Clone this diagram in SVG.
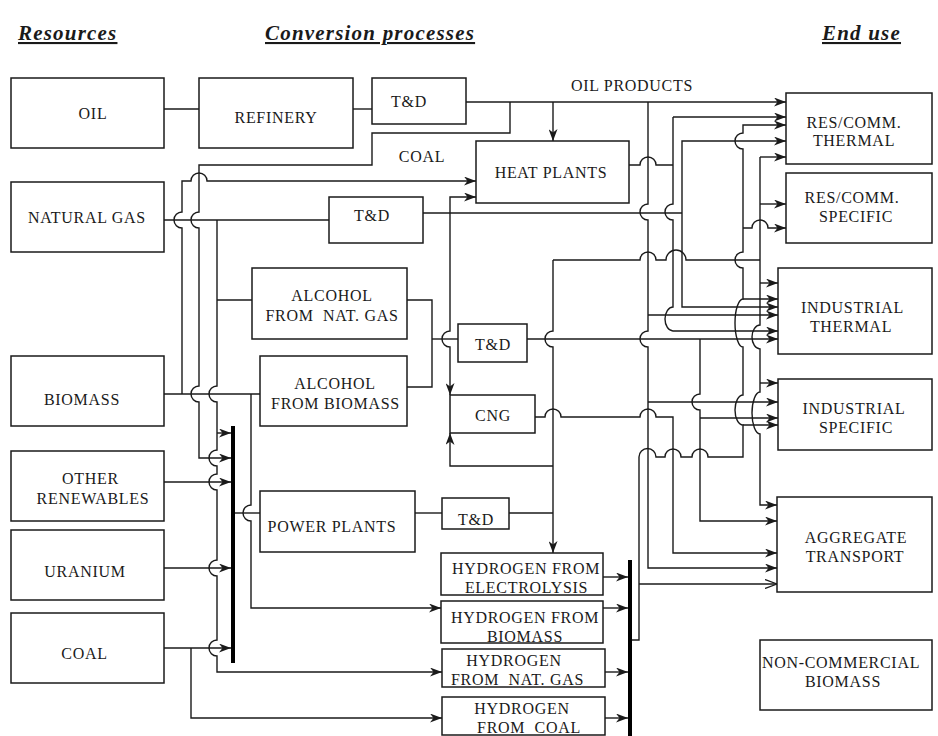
<svg xmlns="http://www.w3.org/2000/svg" width="938" height="736" viewBox="0 0 938 736">
<style>
.b{fill:#fff;stroke:#1a1a1a;stroke-width:1.5}
.c path{fill:none;stroke:#1a1a1a;stroke-width:1.4}
.c .a{marker-end:url(#ah)}
.c .o{marker-end:url(#oh)}
.bar{fill:none;stroke:#000;stroke-width:4}
text{font-family:"Liberation Serif","Times New Roman",serif;font-size:16px;letter-spacing:0.7px;fill:#1a1a1a;text-anchor:middle}
.t{font-weight:bold;font-style:italic;font-size:21px;text-anchor:start;text-decoration:underline;letter-spacing:1.2px}
</style>
<defs>
<marker id="ah" markerUnits="userSpaceOnUse" markerWidth="12" markerHeight="9" viewBox="0 0 12 9" refX="12" refY="4.5" orient="auto"><path d="M0,0 L12,4.5 L0,9 L3.5,4.5 Z" fill="#1a1a1a"/></marker>
<marker id="oh" markerUnits="userSpaceOnUse" markerWidth="13" markerHeight="10" viewBox="0 0 13 10" refX="12" refY="5" orient="auto"><path d="M0,0.5 L12,5 L0,9.5" fill="none" stroke="#1a1a1a" stroke-width="1.3"/></marker>
</defs>
<rect width="938" height="736" fill="#fff"/>
<g id="titles">
<text class="t" x="18" y="40">Resources</text>
<text class="t" x="265" y="40">Conversion processes</text>
<text class="t" x="822" y="40">End use</text>
</g>
<g id="labels">
<text x="632" y="90.5">OIL PRODUCTS</text>
<text x="422" y="162">COAL</text>
</g>
<g class="c" id="connectors">
<path d="M164 109 H199"/>
<path d="M353 109 H372"/>
<path class="a" d="M466 102 H786"/>
<path class="a" d="M553 102 V141"/>
<path class="a" d="M510 102 V133 H372 V165 H199 V212 A8 8 0 0 0 199 228 V386 A8 8 0 0 0 199 402 V458 H231"/>
<path d="M164 220 H329"/>
<path d="M423 213 H682"/>
<path class="a" d="M450 213 V197 H476"/>
<path class="a" d="M450 213 V331 A8 8 0 0 0 450 347 V395"/>
<path class="a" d="M217 220 V386 A8 8 0 0 0 217 402 V450 A8 8 0 0 0 217 466 V474 A8 8 0 0 0 217 490 V560 A8 8 0 0 0 217 576 V640 A8 8 0 0 0 217 656 V672 H442"/>
<path d="M217 300 H252"/>
<path class="a" d="M217 433 H231"/>
<path class="a" d="M182 394 V228 A8 8 0 0 1 182 212 V181 H191 A8 8 0 0 1 207 181 H476"/>
<path d="M164 394 H260"/>
<path class="a" d="M251 394 V505 A8 8 0 0 0 251 521 V608 H441"/>
<path d="M235 513 H260"/>
<path class="a" d="M164 482 H231"/>
<path class="a" d="M164 568 H231"/>
<path class="a" d="M164 648 H231"/>
<path class="a" d="M191 648 V718 H442"/>
<path d="M407 300 H432 V387 H407"/>
<path d="M432 339 H458"/>
<path class="a" d="M527 339 H778"/>
<path class="a" d="M700 339 V394 A8 8 0 0 0 700 410 V521 H777"/>
<path class="a" d="M700 418 H778"/>
<path d="M415 513 H442"/>
<path d="M509 513 H553"/>
<path class="a" d="M553 260 V331 A8 8 0 0 0 553 347 V553"/>
<path class="a" d="M553 466 H450 V433"/>
<path d="M553 260 H640 A8 8 0 0 1 656 260 H666 A10 10 0 0 1 686 260 H760"/>
<path class="a" d="M760 157 V325 A8 12 0 0 0 760 349 V392 A8 21 0 0 0 760 434 V505 H777"/>
<path class="a" d="M760 157 H786"/>
<path class="a" d="M760 204 H786"/>
<path class="a" d="M760 283 H778"/>
<path class="a" d="M760 383 H778"/>
<path class="a" d="M632 640 H639 V457 A8.5 8.5 0 0 1 656 457 H665 A8 8 0 0 1 681 457 H692 A8 8 0 0 1 708 457 H743 V425 A8 15 0 0 1 743 395 V347 A8 24 0 0 1 743 299 V268 A8 8 0 0 1 743 252 V149 A8 8 0 0 1 743 133 V125 H786"/>
<path class="a" d="M743 228 H752 A8 8 0 0 1 768 228 H786"/>
<path class="a" d="M743 299 H778"/>
<path class="a" d="M743 425 H778"/>
<path class="o" d="M639 584 H777"/>
<path class="a" d="M648 102 V204 A8 8 0 0 0 648 220 V331 A8 8 0 0 0 648 347 V568 H777"/>
<path class="a" d="M648 315 H778"/>
<path class="a" d="M648 402 H778"/>
<path d="M629 165 H640 A8 8 0 0 1 656 165 H673"/>
<path class="a" d="M673 117 V204 A8 8 0 0 0 673 220 V307 A8 12 0 0 0 673 331 H778"/>
<path class="a" d="M673 117 H786"/>
<path class="a" d="M682 213 V141 H786"/>
<path class="a" d="M682 213 V307 H778"/>
<path class="a" d="M535 417 H545 A8 8 0 0 1 561 417 H640 A8 8 0 0 1 656 417 H673 V553 H777"/>
<path class="a" d="M603 577 H628"/>
<path class="a" d="M603 608 H628"/>
<path class="a" d="M605 672 H628"/>
<path class="a" d="M605 718 H628"/>
</g>
<g id="bars">
<path class="bar" d="M233 426 V663"/>
<path class="bar" d="M630 560 V736"/>
</g>
<g id="oil"><rect class="b" x="11" y="78" width="153" height="70"/><text x="93" y="119">OIL</text></g>
<g id="refinery"><rect class="b" x="199" y="78" width="154" height="70"/><text x="276" y="123">REFINERY</text></g>
<g id="td-oil"><rect class="b" x="372" y="78" width="94" height="46"/><text x="409" y="106.5">T&amp;D</text></g>
<g id="natural-gas"><rect class="b" x="11" y="182" width="153" height="70"/><text x="87" y="222.5">NATURAL GAS</text></g>
<g id="td-gas"><rect class="b" x="329" y="197" width="94" height="46"/><text x="372" y="221">T&amp;D</text></g>
<g id="heat-plants"><rect class="b" x="476" y="141" width="153" height="62"/><text x="551" y="177.5">HEAT PLANTS</text></g>
<g id="alcohol-gas"><rect class="b" x="252" y="268" width="155" height="71"/><text x="332" y="301">ALCOHOL</text><text x="332" y="321">FROM&#160; NAT. GAS</text></g>
<g id="alcohol-biomass"><rect class="b" x="260" y="356" width="147" height="70"/><text x="335" y="389">ALCOHOL</text><text x="335.5" y="409">FROM BIOMASS</text></g>
<g id="td-alcohol"><rect class="b" x="458" y="324" width="69" height="38"/><text x="493" y="349.5">T&amp;D</text></g>
<g id="cng"><rect class="b" x="450" y="395" width="85" height="38"/><text x="493" y="420.5">CNG</text></g>
<g id="biomass"><rect class="b" x="11" y="356" width="153" height="70"/><text x="82" y="404.5">BIOMASS</text></g>
<g id="other-renewables"><rect class="b" x="11" y="451" width="153" height="70"/><text x="90.5" y="484">OTHER</text><text x="93" y="504">RENEWABLES</text></g>
<g id="uranium"><rect class="b" x="11" y="530" width="153" height="70"/><text x="85" y="576.5">URANIUM</text></g>
<g id="coal"><rect class="b" x="11" y="613" width="153" height="70"/><text x="84.5" y="658.5">COAL</text></g>
<g id="power-plants"><rect class="b" x="260" y="491" width="155" height="61"/><text x="332" y="531.5">POWER PLANTS</text></g>
<g id="td-power"><rect class="b" x="442" y="498" width="67" height="31"/><text x="476" y="524.5">T&amp;D</text></g>
<g id="h2-electrolysis"><rect class="b" x="441" y="553" width="162" height="42"/><text x="526" y="574">HYDROGEN FROM</text><text x="526.5" y="592.5">ELECTROLYSIS</text></g>
<g id="h2-biomass"><rect class="b" x="441" y="601" width="162" height="42"/><text x="525" y="623">HYDROGEN FROM</text><text x="525" y="641.5">BIOMASS</text></g>
<g id="h2-gas"><rect class="b" x="442" y="649" width="163" height="38"/><text x="514" y="666">HYDROGEN</text><text x="517.5" y="684.5">FROM&#160; NAT. GAS</text></g>
<g id="h2-coal"><rect class="b" x="442" y="697" width="163" height="38"/><text x="522" y="714">HYDROGEN</text><text x="529" y="732.5">FROM&#160; COAL</text></g>
<g id="rescomm-thermal"><rect class="b" x="786" y="93" width="146" height="71"/><text x="854" y="127.5">RES/COMM.</text><text x="854" y="146">THERMAL</text></g>
<g id="rescomm-specific"><rect class="b" x="786" y="173" width="146" height="70"/><text x="852" y="203">RES/COMM.</text><text x="856" y="221.5">SPECIFIC</text></g>
<g id="industrial-thermal"><rect class="b" x="778" y="268" width="154" height="86"/><text x="852.5" y="313">INDUSTRIAL</text><text x="851" y="331.5">THERMAL</text></g>
<g id="industrial-specific"><rect class="b" x="778" y="379" width="154" height="71"/><text x="854" y="413.5">INDUSTRIAL</text><text x="856" y="432.5">SPECIFIC</text></g>
<g id="aggregate-transport"><rect class="b" x="777" y="497" width="155" height="95"/><text x="856" y="543">AGGREGATE</text><text x="855" y="561.5">TRANSPORT</text></g>
<g id="non-commercial-biomass"><rect class="b" x="760" y="640" width="172" height="70"/><text x="841" y="668">NON-COMMERCIAL</text><text x="843" y="686.5">BIOMASS</text></g>
</svg>
